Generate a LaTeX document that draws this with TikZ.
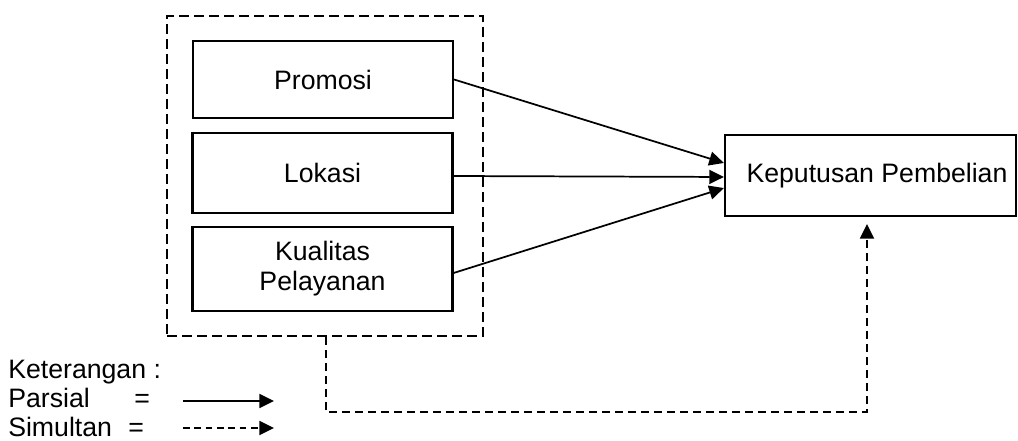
\documentclass[tikz,border=0pt]{standalone}
\usepackage{fontspec}
\setmainfont{Liberation Sans}
\usetikzlibrary{arrows.meta}
\tikzset{
  txt/.style={font=\fontsize{20}{22.5}\selectfont, inner sep=0pt},
  box/.style={draw, line width=1.6pt, txt, align=center},
  grpbox/.style={draw, line width=1.5pt, dash pattern=on 7.5pt off 3.75pt},
  tip/.style={-{Triangle[length=11pt,width=10.5pt]}},
  parsial/.style={line width=1.3pt, tip},
  simultan/.style={line width=1.4pt, dash pattern=on 6pt off 3.75pt, tip},
}
\begin{document}
\begin{tikzpicture}[x=0.75pt,y=-0.75pt]
\useasboundingbox (0,0) rectangle (1018,440);
% group dashed box
\node[grpbox, minimum width=237pt, minimum height=240pt] (grp) at (325,176) {};
% variable boxes
\node[box, minimum width=195pt, minimum height=57.75pt] (p) at (323,79.5) {Promosi};
\node[box, minimum width=195pt, minimum height=60pt] (l) at (322.5,173) {Lokasi};
\node[box, minimum width=195pt, minimum height=63pt] (k) at (322.5,269) {Kualitas\\Pelayanan};
% dependent box
\node[draw, line width=1.6pt, minimum width=218.25pt, minimum height=60.75pt] (kp) at (870.5,175.5) {};
\node[txt] (kpt) at (877,175.5) {Keputusan Pembelian};
% partial arrows
\draw[parsial] (p.east) -- ([yshift=9.4pt]kp.west);
\draw[parsial] ([yshift=-2.25pt]l.east) -- ([yshift=-1.1pt]kp.west);
\draw[parsial] ([yshift=-3pt]k.east) -- ([yshift=-9.4pt]kp.west);
% simultaneous path
\coordinate (s1) at (326,412);
\coordinate (s2) at (867,412);
\draw[simultan, shorten >=5.25pt] (grp.south -| s1) -- (s1) -- (s2) -- (s2 |- kp.south);
% legend
\node[txt, anchor=base west] (ket) at (8,378) {Keterangan :};
\node[txt, anchor=base west] (par) at (8,407) {Parsial};
\node[txt, anchor=base west] (pareq) at (134,407) {=};
\node[txt, anchor=base west] (sim) at (8,436) {Simultan};
\node[txt, anchor=base west] (simeq) at (128,436) {=};
\coordinate (la1) at (183,401);
\coordinate (la2) at (274,401);
\coordinate (lb1) at (183,428);
\coordinate (lb2) at (274,428);
\draw[parsial] (la1) -- (la2);
\draw[simultan, dash pattern=on 5pt off 3.5pt] (lb1) -- (lb2);
\end{tikzpicture}
\end{document}
